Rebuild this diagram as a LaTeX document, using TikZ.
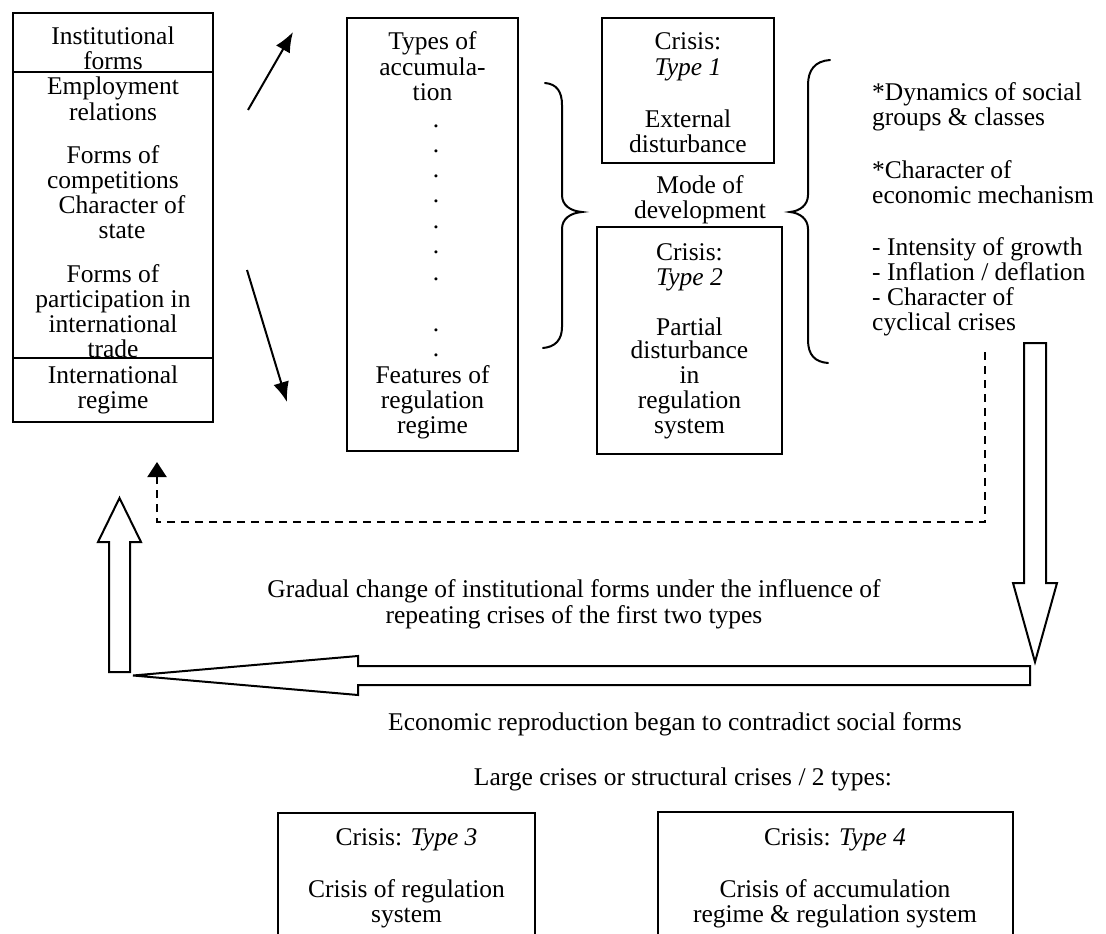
\documentclass[tikz,border=0pt]{standalone}
\usepackage{fontspec}
\setmainfont{Liberation Serif}
\usetikzlibrary{arrows.meta}
\newcommand\diagfont{\fontsize{25.5}{25}\selectfont}
\begin{document}
\begin{tikzpicture}[x=1pt,y=-1pt,
  box/.style={draw, line width=2pt, inner sep=0pt},
  txt/.style={font=\diagfont, inner sep=0pt, anchor=base},
  ltxt/.style={txt, anchor=base west},
  thinarrow/.style={line width=2pt, -{Latex[length=20pt,width=16pt]}},
  hollow/.style={draw, line width=2pt, fill=white},
  bracepath/.style={line width=2pt, line cap=round},
  dashline/.style={line width=2pt, dash pattern=on 8pt off 6pt, -{Triangle[length=15pt,width=19pt]}}
]
\useasboundingbox (0,0) rectangle (1106,934);
\clip (0,0) rectangle (1106,934);

% ---------- institutional forms ----------
\node[box, minimum width=200pt, minimum height=409pt] (lbox) at (113,217.5) {};
\foreach \t/\y [count=\i] in {Institutional/45, forms/70, Employment/95, relations/120,
    Forms of/163, competitions/188, Forms of/282, participation in/307,
    international/332, trade/357, International/383, regime/408}
  \node[txt] (lt\i) at (113,\y) {\t};
\node[txt] (lchar) at (122,213) {Character of};
\node[txt] (lstate) at (122,238) {state};
\draw[line width=2pt] (lbox.west |- 0,72) -- (lbox.east |- 0,72);
\draw[line width=2pt] (lbox.west |- 0,358) -- (lbox.east |- 0,358);

% ---------- accumulation / regulation ----------
\node[box, minimum width=171pt, minimum height=433pt] (mbox) at (432.5,234.5) {};
\foreach \t/\y [count=\i] in {Types of/50, accumula-/75, tion/100,
    Features of/383, regulation/408, regime/433}
  \node[txt] (mt\i) at (432.5,\y) {\t};
\foreach \y [count=\i] in {127,152,177,202,228,253,280,331,356}
  \node[txt] (dot\i) at (436,\y) {.};

% ---------- crisis type 1 and 2 ----------
\node[box, minimum width=172pt, minimum height=145pt] (c1box) at (688,90.5) {};
\foreach \t/\y [count=\i] in {Crisis:/50, \textit{Type 1}/75, External/127, disturbance/152}
  \node[txt] (c1t\i) at (688,\y) {\t};
\node[txt] (mode1) at (700,193) {Mode of};
\node[txt] (mode2) at (700,218) {development};
\node[box, minimum width=185pt, minimum height=227pt] (c2box) at (689.5,340.5) {};
\foreach \t/\y [count=\i] in {Crisis:/260, \textit{Type 2}/285, Partial/335, disturbance/358,
    in/383, regulation/408, system/433}
  \node[txt] (c2t\i) at (689.5,\y) {\t};

% ---------- braces ----------
\draw[bracepath] (545,83) .. controls (557,84) and (562,92) .. (562,105) -- (562,195)
  .. controls (562,205) and (570,211) .. (582,212)
  .. controls (570,213) and (562,219) .. (562,229) -- (562,327)
  .. controls (562,340) and (555,347) .. (543,348);
\draw[bracepath] (830,60) .. controls (815,61) and (808,70) .. (808,85) -- (808,195)
  .. controls (808,205) and (800,211) .. (790,212)
  .. controls (800,213) and (808,219) .. (808,229) -- (808,340)
  .. controls (808,355) and (815,362) .. (828,363);

% ---------- characteristics ----------
\node[ltxt] (r1) at (872,100) {*Dynamics of social};
\node[ltxt] (r2) at (872,125) {groups \& classes};
\node[ltxt] (r3) at (872,178) {*Character of};
\node[ltxt] (r4) at (872,203) {economic mechanism};
\node[ltxt] (r5) at (872,255) {- Intensity of growth};
\node[ltxt] (r6) at (872,280) {- Inflation / deflation};
\node[ltxt] (r7) at (872,305) {- Character of};
\node[ltxt] (r8) at (872,330) {cyclical crises};

% ---------- thin arrows ----------
\coordinate (ua) at (248,110);
\coordinate (ub) at (293,32);
\coordinate (da) at (247,270);
\coordinate (db) at (287,402);
\draw[thinarrow] (ua) -- (ub);
\draw[thinarrow] (da) -- (db);

% ---------- dashed feedback ----------
\coordinate (ds) at (985,352);
\coordinate (dc1) at (985,522);
\coordinate (dc2) at (157,522);
\coordinate (de) at (157,462);
\draw[dashline] (ds) -- (dc1) -- (dc2) -- (de);

% ---------- block arrows ----------
\draw[hollow] (1024,343) -- (1046,343) -- (1046,583) -- (1057,583) -- (1035,662)
  -- (1013,583) -- (1024,583) -- cycle;
\draw[hollow] (1030,666) -- (358,666) -- (358,656) -- (133,675.5) -- (358,695)
  -- (358,685) -- (1030,685) -- cycle;
\draw[hollow] (109,672) -- (109,542) -- (98,542) -- (119.5,498) -- (141,542)
  -- (130,542) -- (130,672) -- cycle;

% ---------- captions ----------
\node[txt] (g1) at (574,597) {Gradual change of institutional forms under the influence of};
\node[txt] (g2) at (574,623) {repeating crises of the first two types};
\node[txt] (econ) at (675,730) {Economic reproduction began to contradict social forms};
\node[txt] (large) at (683,785) {Large crises or structural crises / 2 types:};

% ---------- structural crises ----------
\node[box, minimum width=257pt, minimum height=150pt] (c3box) at (406.5,888) {};
\node[txt] (c3a) at (406.5,845) {Crisis: \textit{Type 3}};
\node[txt] (c3b) at (406.5,897) {Crisis of regulation};
\node[txt] (c3c) at (406.5,922) {system};
\node[box, minimum width=355pt, minimum height=150pt] (c4box) at (835.5,887) {};
\node[txt] (c4a) at (835,845) {Crisis: \textit{Type 4}};
\node[txt] (c4b) at (835,897) {Crisis of accumulation};
\node[txt] (c4c) at (835,922) {regime \& regulation system};
\end{tikzpicture}
\end{document}
